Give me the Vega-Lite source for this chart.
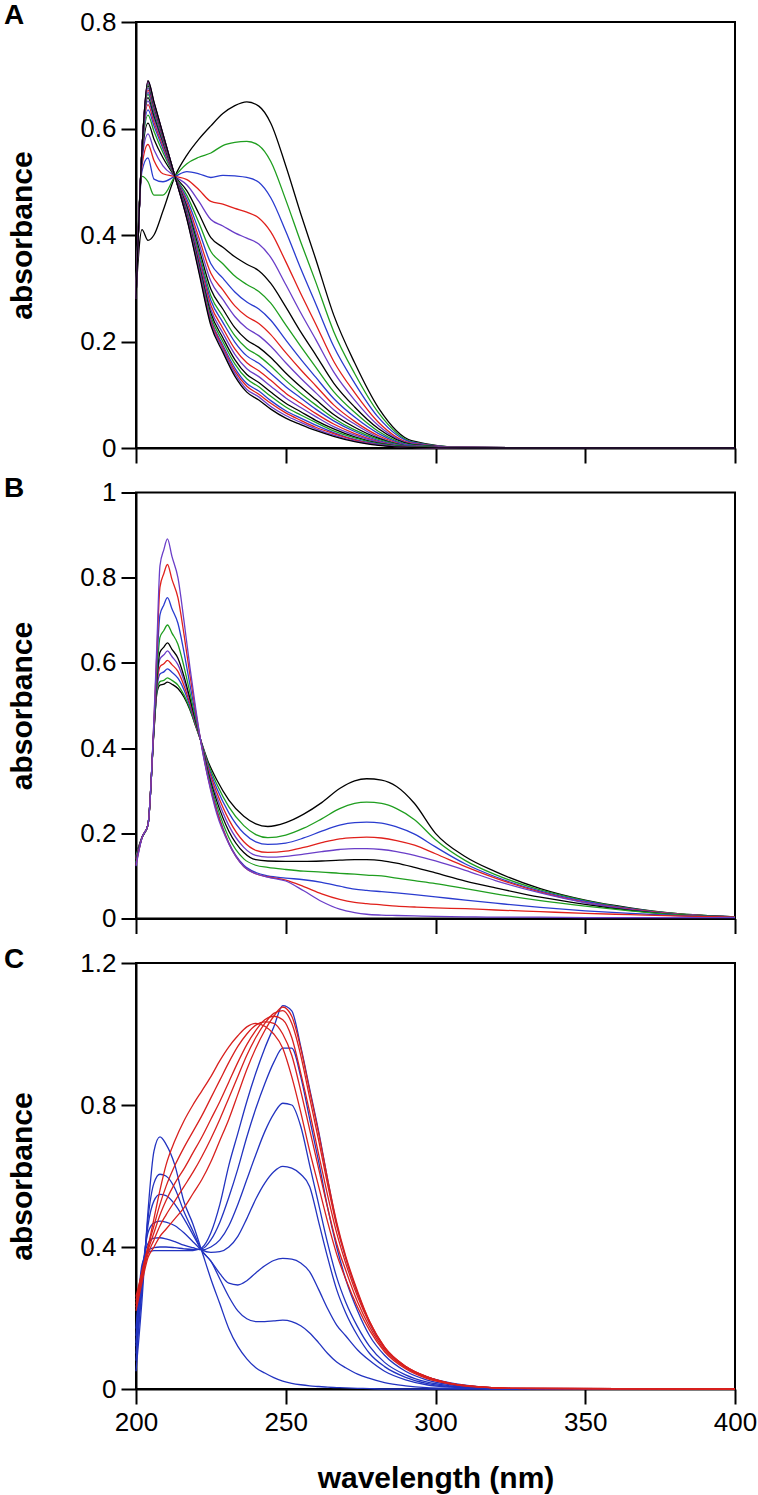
{
"$schema":"https://vega.github.io/schema/vega-lite/v6.json",
"autosize":{"type":"none"},
"padding":{"left":136,"top":22,"right":622,"bottom":1473},
"background":"white",
"spacing":44.5,
"bounds":"flush",
"resolve":{"scale":{"color":"independent","y":"independent"}},
"config":{
"view":{"stroke":"black","strokeWidth":2},
"axis":{"domainColor":"black","domainWidth":2,"tickColor":"black","tickWidth":2,"tickSize":15,"labelFont":"Liberation Sans","labelFontSize":26,"labelColor":"black","labelPadding":5,"labelFlush":false,"labelOverlap":false,"titleFont":"Liberation Sans","titleFontSize":30,"titleFontWeight":"bold","titleColor":"black","grid":false},
"title":{"anchor":"start","frame":"group","offset":0,"baseline":"alphabetic","font":"Liberation Sans","fontSize":28,"fontWeight":"bold","color":"black"}
},
"datasets":{
"A":[
{"s":0,"x":200,"y":0.29},{"s":0,"x":202,"y":0.41},{"s":0,"x":204,"y":0.39},{"s":0,"x":206,"y":0.40},{"s":0,"x":209,"y":0.445},{"s":0,"x":213,"y":0.51},{"s":0,"x":217,"y":0.55},{"s":0,"x":221,"y":0.58},{"s":0,"x":225,"y":0.605},{"s":0,"x":229,"y":0.628},{"s":0,"x":233,"y":0.643},{"s":0,"x":237,"y":0.65},{"s":0,"x":241,"y":0.642},{"s":0,"x":245,"y":0.61},{"s":0,"x":250,"y":0.53},{"s":0,"x":255,"y":0.44},{"s":0,"x":260,"y":0.355},{"s":0,"x":266,"y":0.25},{"s":0,"x":273,"y":0.16},{"s":0,"x":281,"y":0.075},{"s":0,"x":292,"y":0.014},{"s":0,"x":310,"y":0.001},{"s":0,"x":400,"y":0},
{"s":1,"x":200,"y":0.30},{"s":1,"x":202,"y":0.51},{"s":1,"x":204,"y":0.50},{"s":1,"x":206,"y":0.475},{"s":1,"x":209,"y":0.475},{"s":1,"x":213,"y":0.51},{"s":1,"x":217,"y":0.534},{"s":1,"x":221,"y":0.546},{"s":1,"x":225,"y":0.554},{"s":1,"x":229,"y":0.568},{"s":1,"x":233,"y":0.574},{"s":1,"x":237,"y":0.576},{"s":1,"x":241,"y":0.568},{"s":1,"x":245,"y":0.538},{"s":1,"x":250,"y":0.466},{"s":1,"x":255,"y":0.387},{"s":1,"x":260,"y":0.312},{"s":1,"x":266,"y":0.219},{"s":1,"x":273,"y":0.14},{"s":1,"x":281,"y":0.066},{"s":1,"x":292,"y":0.012},{"s":1,"x":310,"y":0.001},{"s":1,"x":400,"y":0},
{"s":2,"x":200,"y":0.30},{"s":2,"x":202,"y":0.52},{"s":2,"x":204,"y":0.545},{"s":2,"x":206,"y":0.505},{"s":2,"x":209,"y":0.50},{"s":2,"x":213,"y":0.51},{"s":2,"x":217,"y":0.519},{"s":2,"x":221,"y":0.515},{"s":2,"x":225,"y":0.508},{"s":2,"x":229,"y":0.512},{"s":2,"x":233,"y":0.511},{"s":2,"x":237,"y":0.508},{"s":2,"x":241,"y":0.499},{"s":2,"x":245,"y":0.47},{"s":2,"x":250,"y":0.407},{"s":2,"x":255,"y":0.337},{"s":2,"x":260,"y":0.271},{"s":2,"x":266,"y":0.191},{"s":2,"x":273,"y":0.122},{"s":2,"x":281,"y":0.057},{"s":2,"x":292,"y":0.011},{"s":2,"x":310,"y":0.001},{"s":2,"x":400,"y":0},
{"s":3,"x":200,"y":0.30},{"s":3,"x":202,"y":0.53},{"s":3,"x":204,"y":0.57},{"s":3,"x":206,"y":0.54},{"s":3,"x":209,"y":0.515},{"s":3,"x":213,"y":0.51},{"s":3,"x":217,"y":0.504},{"s":3,"x":221,"y":0.485},{"s":3,"x":225,"y":0.463},{"s":3,"x":229,"y":0.458},{"s":3,"x":233,"y":0.45},{"s":3,"x":237,"y":0.443},{"s":3,"x":241,"y":0.432},{"s":3,"x":245,"y":0.406},{"s":3,"x":250,"y":0.35},{"s":3,"x":255,"y":0.29},{"s":3,"x":260,"y":0.233},{"s":3,"x":266,"y":0.163},{"s":3,"x":273,"y":0.104},{"s":3,"x":281,"y":0.048},{"s":3,"x":292,"y":0.009},{"s":3,"x":310,"y":0.001},{"s":3,"x":400,"y":0},
{"s":4,"x":200,"y":0.30},{"s":4,"x":202,"y":0.54},{"s":4,"x":204,"y":0.59},{"s":4,"x":206,"y":0.56},{"s":4,"x":209,"y":0.53},{"s":4,"x":213,"y":0.51},{"s":4,"x":217,"y":0.494},{"s":4,"x":221,"y":0.463},{"s":4,"x":225,"y":0.429},{"s":4,"x":229,"y":0.417},{"s":4,"x":233,"y":0.404},{"s":4,"x":237,"y":0.394},{"s":4,"x":241,"y":0.383},{"s":4,"x":245,"y":0.358},{"s":4,"x":250,"y":0.307},{"s":4,"x":255,"y":0.254},{"s":4,"x":260,"y":0.204},{"s":4,"x":266,"y":0.143},{"s":4,"x":273,"y":0.09},{"s":4,"x":281,"y":0.042},{"s":4,"x":292,"y":0.008},{"s":4,"x":310,"y":0.001},{"s":4,"x":400,"y":0},
{"s":5,"x":200,"y":0.30},{"s":5,"x":202,"y":0.545},{"s":5,"x":204,"y":0.61},{"s":5,"x":206,"y":0.58},{"s":5,"x":209,"y":0.545},{"s":5,"x":213,"y":0.51},{"s":5,"x":217,"y":0.483},{"s":5,"x":221,"y":0.44},{"s":5,"x":225,"y":0.395},{"s":5,"x":229,"y":0.377},{"s":5,"x":233,"y":0.359},{"s":5,"x":237,"y":0.345},{"s":5,"x":241,"y":0.333},{"s":5,"x":245,"y":0.309},{"s":5,"x":250,"y":0.265},{"s":5,"x":255,"y":0.218},{"s":5,"x":260,"y":0.175},{"s":5,"x":266,"y":0.122},{"s":5,"x":273,"y":0.077},{"s":5,"x":281,"y":0.036},{"s":5,"x":292,"y":0.007},{"s":5,"x":310,"y":0.001},{"s":5,"x":400,"y":0},
{"s":6,"x":200,"y":0.29},{"s":6,"x":202,"y":0.55},{"s":6,"x":204,"y":0.625},{"s":6,"x":206,"y":0.595},{"s":6,"x":209,"y":0.555},{"s":6,"x":213,"y":0.51},{"s":6,"x":217,"y":0.474},{"s":6,"x":221,"y":0.423},{"s":6,"x":225,"y":0.369},{"s":6,"x":229,"y":0.346},{"s":6,"x":233,"y":0.323},{"s":6,"x":237,"y":0.307},{"s":6,"x":241,"y":0.294},{"s":6,"x":245,"y":0.272},{"s":6,"x":250,"y":0.231},{"s":6,"x":255,"y":0.191},{"s":6,"x":260,"y":0.152},{"s":6,"x":266,"y":0.106},{"s":6,"x":273,"y":0.067},{"s":6,"x":281,"y":0.031},{"s":6,"x":292,"y":0.006},{"s":6,"x":310,"y":0.001},{"s":6,"x":400,"y":0},
{"s":7,"x":200,"y":0.29},{"s":7,"x":202,"y":0.55},{"s":7,"x":204,"y":0.635},{"s":7,"x":206,"y":0.605},{"s":7,"x":209,"y":0.562},{"s":7,"x":213,"y":0.51},{"s":7,"x":217,"y":0.467},{"s":7,"x":221,"y":0.408},{"s":7,"x":225,"y":0.346},{"s":7,"x":229,"y":0.319},{"s":7,"x":233,"y":0.293},{"s":7,"x":237,"y":0.274},{"s":7,"x":241,"y":0.261},{"s":7,"x":245,"y":0.24},{"s":7,"x":250,"y":0.203},{"s":7,"x":255,"y":0.167},{"s":7,"x":260,"y":0.133},{"s":7,"x":266,"y":0.093},{"s":7,"x":273,"y":0.058},{"s":7,"x":281,"y":0.027},{"s":7,"x":292,"y":0.005},{"s":7,"x":310,"y":0.001},{"s":7,"x":400,"y":0},
{"s":8,"x":200,"y":0.29},{"s":8,"x":202,"y":0.555},{"s":8,"x":204,"y":0.645},{"s":8,"x":206,"y":0.612},{"s":8,"x":209,"y":0.567},{"s":8,"x":213,"y":0.51},{"s":8,"x":217,"y":0.461},{"s":8,"x":221,"y":0.395},{"s":8,"x":225,"y":0.328},{"s":8,"x":229,"y":0.297},{"s":8,"x":233,"y":0.267},{"s":8,"x":237,"y":0.247},{"s":8,"x":241,"y":0.234},{"s":8,"x":245,"y":0.213},{"s":8,"x":250,"y":0.179},{"s":8,"x":255,"y":0.147},{"s":8,"x":260,"y":0.117},{"s":8,"x":266,"y":0.081},{"s":8,"x":273,"y":0.05},{"s":8,"x":281,"y":0.023},{"s":8,"x":292,"y":0.004},{"s":8,"x":310,"y":0.001},{"s":8,"x":400,"y":0},
{"s":9,"x":200,"y":0.29},{"s":9,"x":202,"y":0.555},{"s":9,"x":204,"y":0.652},{"s":9,"x":206,"y":0.618},{"s":9,"x":209,"y":0.571},{"s":9,"x":213,"y":0.51},{"s":9,"x":217,"y":0.456},{"s":9,"x":221,"y":0.385},{"s":9,"x":225,"y":0.313},{"s":9,"x":229,"y":0.279},{"s":9,"x":233,"y":0.247},{"s":9,"x":237,"y":0.225},{"s":9,"x":241,"y":0.211},{"s":9,"x":245,"y":0.191},{"s":9,"x":250,"y":0.16},{"s":9,"x":255,"y":0.131},{"s":9,"x":260,"y":0.104},{"s":9,"x":266,"y":0.072},{"s":9,"x":273,"y":0.045},{"s":9,"x":281,"y":0.02},{"s":9,"x":292,"y":0.004},{"s":9,"x":310,"y":0.001},{"s":9,"x":400,"y":0},
{"s":10,"x":200,"y":0.28},{"s":10,"x":202,"y":0.56},{"s":10,"x":204,"y":0.658},{"s":10,"x":206,"y":0.624},{"s":10,"x":209,"y":0.575},{"s":10,"x":213,"y":0.51},{"s":10,"x":217,"y":0.452},{"s":10,"x":221,"y":0.375},{"s":10,"x":225,"y":0.298},{"s":10,"x":229,"y":0.261},{"s":10,"x":233,"y":0.226},{"s":10,"x":237,"y":0.203},{"s":10,"x":241,"y":0.189},{"s":10,"x":245,"y":0.17},{"s":10,"x":250,"y":0.141},{"s":10,"x":255,"y":0.115},{"s":10,"x":260,"y":0.091},{"s":10,"x":266,"y":0.063},{"s":10,"x":273,"y":0.039},{"s":10,"x":281,"y":0.018},{"s":10,"x":292,"y":0.003},{"s":10,"x":310,"y":0},{"s":10,"x":400,"y":0},
{"s":11,"x":200,"y":0.28},{"s":11,"x":202,"y":0.56},{"s":11,"x":204,"y":0.664},{"s":11,"x":206,"y":0.629},{"s":11,"x":209,"y":0.578},{"s":11,"x":213,"y":0.51},{"s":11,"x":217,"y":0.448},{"s":11,"x":221,"y":0.368},{"s":11,"x":225,"y":0.286},{"s":11,"x":229,"y":0.247},{"s":11,"x":233,"y":0.211},{"s":11,"x":237,"y":0.187},{"s":11,"x":241,"y":0.173},{"s":11,"x":245,"y":0.154},{"s":11,"x":250,"y":0.127},{"s":11,"x":255,"y":0.103},{"s":11,"x":260,"y":0.081},{"s":11,"x":266,"y":0.056},{"s":11,"x":273,"y":0.034},{"s":11,"x":281,"y":0.016},{"s":11,"x":292,"y":0.003},{"s":11,"x":310,"y":0},{"s":11,"x":400,"y":0},
{"s":12,"x":200,"y":0.28},{"s":12,"x":202,"y":0.56},{"s":12,"x":204,"y":0.668},{"s":12,"x":206,"y":0.633},{"s":12,"x":209,"y":0.58},{"s":12,"x":213,"y":0.51},{"s":12,"x":217,"y":0.445},{"s":12,"x":221,"y":0.361},{"s":12,"x":225,"y":0.277},{"s":12,"x":229,"y":0.236},{"s":12,"x":233,"y":0.199},{"s":12,"x":237,"y":0.173},{"s":12,"x":241,"y":0.159},{"s":12,"x":245,"y":0.14},{"s":12,"x":250,"y":0.115},{"s":12,"x":255,"y":0.094},{"s":12,"x":260,"y":0.073},{"s":12,"x":266,"y":0.051},{"s":12,"x":273,"y":0.031},{"s":12,"x":281,"y":0.014},{"s":12,"x":292,"y":0.003},{"s":12,"x":310,"y":0},{"s":12,"x":400,"y":0},
{"s":13,"x":200,"y":0.28},{"s":13,"x":202,"y":0.56},{"s":13,"x":204,"y":0.672},{"s":13,"x":206,"y":0.637},{"s":13,"x":209,"y":0.582},{"s":13,"x":213,"y":0.51},{"s":13,"x":217,"y":0.442},{"s":13,"x":221,"y":0.355},{"s":13,"x":225,"y":0.268},{"s":13,"x":229,"y":0.225},{"s":13,"x":233,"y":0.186},{"s":13,"x":237,"y":0.16},{"s":13,"x":241,"y":0.145},{"s":13,"x":245,"y":0.127},{"s":13,"x":250,"y":0.103},{"s":13,"x":255,"y":0.084},{"s":13,"x":260,"y":0.065},{"s":13,"x":266,"y":0.045},{"s":13,"x":273,"y":0.027},{"s":13,"x":281,"y":0.012},{"s":13,"x":292,"y":0.002},{"s":13,"x":310,"y":0},{"s":13,"x":400,"y":0},
{"s":14,"x":200,"y":0.28},{"s":14,"x":202,"y":0.56},{"s":14,"x":204,"y":0.676},{"s":14,"x":206,"y":0.64},{"s":14,"x":209,"y":0.584},{"s":14,"x":213,"y":0.51},{"s":14,"x":217,"y":0.44},{"s":14,"x":221,"y":0.35},{"s":14,"x":225,"y":0.26},{"s":14,"x":229,"y":0.216},{"s":14,"x":233,"y":0.176},{"s":14,"x":237,"y":0.149},{"s":14,"x":241,"y":0.134},{"s":14,"x":245,"y":0.116},{"s":14,"x":250,"y":0.094},{"s":14,"x":255,"y":0.076},{"s":14,"x":260,"y":0.059},{"s":14,"x":266,"y":0.04},{"s":14,"x":273,"y":0.024},{"s":14,"x":281,"y":0.011},{"s":14,"x":292,"y":0.002},{"s":14,"x":310,"y":0},{"s":14,"x":400,"y":0},
{"s":15,"x":200,"y":0.28},{"s":15,"x":202,"y":0.56},{"s":15,"x":204,"y":0.68},{"s":15,"x":206,"y":0.643},{"s":15,"x":209,"y":0.586},{"s":15,"x":213,"y":0.51},{"s":15,"x":217,"y":0.437},{"s":15,"x":221,"y":0.345},{"s":15,"x":225,"y":0.253},{"s":15,"x":229,"y":0.207},{"s":15,"x":233,"y":0.166},{"s":15,"x":237,"y":0.138},{"s":15,"x":241,"y":0.123},{"s":15,"x":245,"y":0.105},{"s":15,"x":250,"y":0.084},{"s":15,"x":255,"y":0.068},{"s":15,"x":260,"y":0.052},{"s":15,"x":266,"y":0.036},{"s":15,"x":273,"y":0.021},{"s":15,"x":281,"y":0.009},{"s":15,"x":292,"y":0.002},{"s":15,"x":310,"y":0},{"s":15,"x":400,"y":0},
{"s":16,"x":200,"y":0.28},{"s":16,"x":202,"y":0.56},{"s":16,"x":204,"y":0.683},{"s":16,"x":206,"y":0.645},{"s":16,"x":209,"y":0.587},{"s":16,"x":213,"y":0.51},{"s":16,"x":217,"y":0.435},{"s":16,"x":221,"y":0.341},{"s":16,"x":225,"y":0.247},{"s":16,"x":229,"y":0.2},{"s":16,"x":233,"y":0.158},{"s":16,"x":237,"y":0.13},{"s":16,"x":241,"y":0.115},{"s":16,"x":245,"y":0.097},{"s":16,"x":250,"y":0.077},{"s":16,"x":255,"y":0.062},{"s":16,"x":260,"y":0.048},{"s":16,"x":266,"y":0.032},{"s":16,"x":273,"y":0.019},{"s":16,"x":281,"y":0.008},{"s":16,"x":292,"y":0.002},{"s":16,"x":310,"y":0},{"s":16,"x":400,"y":0},
{"s":17,"x":200,"y":0.28},{"s":17,"x":202,"y":0.56},{"s":17,"x":204,"y":0.686},{"s":17,"x":206,"y":0.647},{"s":17,"x":209,"y":0.588},{"s":17,"x":213,"y":0.51},{"s":17,"x":217,"y":0.434},{"s":17,"x":221,"y":0.338},{"s":17,"x":225,"y":0.241},{"s":17,"x":229,"y":0.193},{"s":17,"x":233,"y":0.15},{"s":17,"x":237,"y":0.121},{"s":17,"x":241,"y":0.107},{"s":17,"x":245,"y":0.089},{"s":17,"x":250,"y":0.07},{"s":17,"x":255,"y":0.056},{"s":17,"x":260,"y":0.043},{"s":17,"x":266,"y":0.029},{"s":17,"x":273,"y":0.016},{"s":17,"x":281,"y":0.007},{"s":17,"x":292,"y":0.001},{"s":17,"x":310,"y":0},{"s":17,"x":400,"y":0},
{"s":18,"x":200,"y":0.28},{"s":18,"x":202,"y":0.56},{"s":18,"x":204,"y":0.688},{"s":18,"x":206,"y":0.648},{"s":18,"x":209,"y":0.589},{"s":18,"x":213,"y":0.51},{"s":18,"x":217,"y":0.432},{"s":18,"x":221,"y":0.335},{"s":18,"x":225,"y":0.238},{"s":18,"x":229,"y":0.189},{"s":18,"x":233,"y":0.145},{"s":18,"x":237,"y":0.116},{"s":18,"x":241,"y":0.101},{"s":18,"x":245,"y":0.084},{"s":18,"x":250,"y":0.066},{"s":18,"x":255,"y":0.052},{"s":18,"x":260,"y":0.039},{"s":18,"x":266,"y":0.027},{"s":18,"x":273,"y":0.015},{"s":18,"x":281,"y":0.006},{"s":18,"x":292,"y":0.001},{"s":18,"x":310,"y":0},{"s":18,"x":400,"y":0},
{"s":19,"x":200,"y":0.28},{"s":19,"x":202,"y":0.56},{"s":19,"x":204,"y":0.689},{"s":19,"x":206,"y":0.649},{"s":19,"x":209,"y":0.59},{"s":19,"x":213,"y":0.51},{"s":19,"x":217,"y":0.431},{"s":19,"x":221,"y":0.333},{"s":19,"x":225,"y":0.234},{"s":19,"x":229,"y":0.185},{"s":19,"x":233,"y":0.14},{"s":19,"x":237,"y":0.11},{"s":19,"x":241,"y":0.096},{"s":19,"x":245,"y":0.078},{"s":19,"x":250,"y":0.061},{"s":19,"x":255,"y":0.048},{"s":19,"x":260,"y":0.036},{"s":19,"x":266,"y":0.024},{"s":19,"x":273,"y":0.013},{"s":19,"x":281,"y":0.006},{"s":19,"x":292,"y":0.001},{"s":19,"x":310,"y":0},{"s":19,"x":400,"y":0},
{"s":20,"x":200,"y":0.28},{"s":20,"x":202,"y":0.56},{"s":20,"x":204,"y":0.69},{"s":20,"x":206,"y":0.65},{"s":20,"x":209,"y":0.59},{"s":20,"x":213,"y":0.51},{"s":20,"x":217,"y":0.43},{"s":20,"x":221,"y":0.33},{"s":20,"x":225,"y":0.23},{"s":20,"x":229,"y":0.18},{"s":20,"x":233,"y":0.135},{"s":20,"x":237,"y":0.105},{"s":20,"x":241,"y":0.09},{"s":20,"x":245,"y":0.073},{"s":20,"x":250,"y":0.056},{"s":20,"x":255,"y":0.044},{"s":20,"x":260,"y":0.033},{"s":20,"x":266,"y":0.022},{"s":20,"x":273,"y":0.012},{"s":20,"x":281,"y":0.005},{"s":20,"x":292,"y":0.001},{"s":20,"x":310,"y":0},{"s":20,"x":400,"y":0}
],
"B":[
{"s":0,"x":200,"y":0.15},{"s":0,"x":202,"y":0.19},{"s":0,"x":204,"y":0.22},{"s":0,"x":206,"y":0.44},{"s":0,"x":207,"y":0.53},{"s":0,"x":208,"y":0.548},{"s":0,"x":209.3,"y":0.55},{"s":0,"x":210.5,"y":0.555},{"s":0,"x":212,"y":0.55},{"s":0,"x":214,"y":0.54},{"s":0,"x":216,"y":0.52},{"s":0,"x":218,"y":0.49},{"s":0,"x":220,"y":0.45},{"s":0,"x":222,"y":0.41},{"s":0,"x":224,"y":0.37},{"s":0,"x":227,"y":0.325},{"s":0,"x":231,"y":0.278},{"s":0,"x":236,"y":0.24},{"s":0,"x":240,"y":0.222},{"s":0,"x":244,"y":0.216},{"s":0,"x":250,"y":0.225},{"s":0,"x":256,"y":0.245},{"s":0,"x":262,"y":0.272},{"s":0,"x":268,"y":0.305},{"s":0,"x":273,"y":0.323},{"s":0,"x":277,"y":0.328},{"s":0,"x":282,"y":0.325},{"s":0,"x":287,"y":0.31},{"s":0,"x":293,"y":0.27},{"s":0,"x":300,"y":0.2},{"s":0,"x":310,"y":0.145},{"s":0,"x":320,"y":0.11},{"s":0,"x":335,"y":0.07},{"s":0,"x":350,"y":0.043},{"s":0,"x":365,"y":0.025},{"s":0,"x":380,"y":0.012},{"s":0,"x":400,"y":0.004},
{"s":1,"x":200,"y":0.147},{"s":1,"x":202,"y":0.19},{"s":1,"x":204,"y":0.22},{"s":1,"x":206,"y":0.441},{"s":1,"x":207,"y":0.534},{"s":1,"x":208,"y":0.556},{"s":1,"x":209.3,"y":0.559},{"s":1,"x":210.5,"y":0.565},{"s":1,"x":212,"y":0.559},{"s":1,"x":214,"y":0.548},{"s":1,"x":216,"y":0.525},{"s":1,"x":218,"y":0.493},{"s":1,"x":220,"y":0.451},{"s":1,"x":222,"y":0.41},{"s":1,"x":224,"y":0.365},{"s":1,"x":227,"y":0.315},{"s":1,"x":231,"y":0.262},{"s":1,"x":236,"y":0.218},{"s":1,"x":240,"y":0.197},{"s":1,"x":244,"y":0.19},{"s":1,"x":250,"y":0.196},{"s":1,"x":256,"y":0.212},{"s":1,"x":262,"y":0.234},{"s":1,"x":268,"y":0.258},{"s":1,"x":273,"y":0.27},{"s":1,"x":277,"y":0.273},{"s":1,"x":282,"y":0.27},{"s":1,"x":287,"y":0.258},{"s":1,"x":293,"y":0.232},{"s":1,"x":300,"y":0.185},{"s":1,"x":310,"y":0.136},{"s":1,"x":320,"y":0.103},{"s":1,"x":335,"y":0.067},{"s":1,"x":350,"y":0.042},{"s":1,"x":365,"y":0.024},{"s":1,"x":380,"y":0.012},{"s":1,"x":400,"y":0.004},
{"s":2,"x":200,"y":0.144},{"s":2,"x":202,"y":0.19},{"s":2,"x":204,"y":0.22},{"s":2,"x":206,"y":0.443},{"s":2,"x":207,"y":0.541},{"s":2,"x":208,"y":0.574},{"s":2,"x":209.3,"y":0.579},{"s":2,"x":210.5,"y":0.586},{"s":2,"x":212,"y":0.578},{"s":2,"x":214,"y":0.564},{"s":2,"x":216,"y":0.537},{"s":2,"x":218,"y":0.499},{"s":2,"x":220,"y":0.454},{"s":2,"x":222,"y":0.409},{"s":2,"x":224,"y":0.36},{"s":2,"x":227,"y":0.305},{"s":2,"x":231,"y":0.248},{"s":2,"x":236,"y":0.2},{"s":2,"x":240,"y":0.18},{"s":2,"x":244,"y":0.174},{"s":2,"x":250,"y":0.177},{"s":2,"x":256,"y":0.189},{"s":2,"x":262,"y":0.205},{"s":2,"x":268,"y":0.219},{"s":2,"x":273,"y":0.225},{"s":2,"x":277,"y":0.226},{"s":2,"x":282,"y":0.224},{"s":2,"x":287,"y":0.215},{"s":2,"x":293,"y":0.198},{"s":2,"x":300,"y":0.168},{"s":2,"x":310,"y":0.128},{"s":2,"x":320,"y":0.098},{"s":2,"x":335,"y":0.064},{"s":2,"x":350,"y":0.04},{"s":2,"x":365,"y":0.023},{"s":2,"x":380,"y":0.011},{"s":2,"x":400,"y":0.004},
{"s":3,"x":200,"y":0.141},{"s":3,"x":202,"y":0.19},{"s":3,"x":204,"y":0.22},{"s":3,"x":206,"y":0.445},{"s":3,"x":207,"y":0.548},{"s":3,"x":208,"y":0.591},{"s":3,"x":209.3,"y":0.598},{"s":3,"x":210.5,"y":0.606},{"s":3,"x":212,"y":0.596},{"s":3,"x":214,"y":0.58},{"s":3,"x":216,"y":0.547},{"s":3,"x":218,"y":0.505},{"s":3,"x":220,"y":0.456},{"s":3,"x":222,"y":0.408},{"s":3,"x":224,"y":0.355},{"s":3,"x":227,"y":0.295},{"s":3,"x":231,"y":0.232},{"s":3,"x":236,"y":0.18},{"s":3,"x":240,"y":0.16},{"s":3,"x":244,"y":0.155},{"s":3,"x":250,"y":0.158},{"s":3,"x":256,"y":0.167},{"s":3,"x":262,"y":0.178},{"s":3,"x":268,"y":0.187},{"s":3,"x":273,"y":0.19},{"s":3,"x":277,"y":0.191},{"s":3,"x":282,"y":0.189},{"s":3,"x":287,"y":0.183},{"s":3,"x":293,"y":0.172},{"s":3,"x":300,"y":0.152},{"s":3,"x":310,"y":0.122},{"s":3,"x":320,"y":0.095},{"s":3,"x":335,"y":0.062},{"s":3,"x":350,"y":0.038},{"s":3,"x":365,"y":0.022},{"s":3,"x":380,"y":0.011},{"s":3,"x":400,"y":0.004},
{"s":4,"x":200,"y":0.138},{"s":4,"x":202,"y":0.19},{"s":4,"x":204,"y":0.22},{"s":4,"x":206,"y":0.447},{"s":4,"x":207,"y":0.556},{"s":4,"x":208,"y":0.609},{"s":4,"x":209.3,"y":0.619},{"s":4,"x":210.5,"y":0.628},{"s":4,"x":212,"y":0.615},{"s":4,"x":214,"y":0.596},{"s":4,"x":216,"y":0.559},{"s":4,"x":218,"y":0.512},{"s":4,"x":220,"y":0.459},{"s":4,"x":222,"y":0.408},{"s":4,"x":224,"y":0.35},{"s":4,"x":227,"y":0.285},{"s":4,"x":231,"y":0.218},{"s":4,"x":236,"y":0.167},{"s":4,"x":240,"y":0.148},{"s":4,"x":244,"y":0.144},{"s":4,"x":250,"y":0.146},{"s":4,"x":256,"y":0.151},{"s":4,"x":262,"y":0.157},{"s":4,"x":268,"y":0.162},{"s":4,"x":273,"y":0.164},{"s":4,"x":277,"y":0.164},{"s":4,"x":282,"y":0.162},{"s":4,"x":287,"y":0.157},{"s":4,"x":293,"y":0.148},{"s":4,"x":300,"y":0.135},{"s":4,"x":310,"y":0.113},{"s":4,"x":320,"y":0.089},{"s":4,"x":335,"y":0.06},{"s":4,"x":350,"y":0.037},{"s":4,"x":365,"y":0.021},{"s":4,"x":380,"y":0.01},{"s":4,"x":400,"y":0.004},
{"s":5,"x":200,"y":0.135},{"s":5,"x":202,"y":0.19},{"s":5,"x":204,"y":0.22},{"s":5,"x":206,"y":0.448},{"s":5,"x":207,"y":0.563},{"s":5,"x":208,"y":0.625},{"s":5,"x":209.3,"y":0.637},{"s":5,"x":210.5,"y":0.647},{"s":5,"x":212,"y":0.632},{"s":5,"x":214,"y":0.611},{"s":5,"x":216,"y":0.569},{"s":5,"x":218,"y":0.517},{"s":5,"x":220,"y":0.461},{"s":5,"x":222,"y":0.407},{"s":5,"x":224,"y":0.345},{"s":5,"x":227,"y":0.275},{"s":5,"x":231,"y":0.205},{"s":5,"x":236,"y":0.155},{"s":5,"x":240,"y":0.138},{"s":5,"x":244,"y":0.135},{"s":5,"x":250,"y":0.134},{"s":5,"x":256,"y":0.134},{"s":5,"x":262,"y":0.135},{"s":5,"x":268,"y":0.137},{"s":5,"x":273,"y":0.138},{"s":5,"x":277,"y":0.138},{"s":5,"x":282,"y":0.136},{"s":5,"x":287,"y":0.13},{"s":5,"x":293,"y":0.12},{"s":5,"x":300,"y":0.107},{"s":5,"x":310,"y":0.088},{"s":5,"x":320,"y":0.072},{"s":5,"x":335,"y":0.05},{"s":5,"x":350,"y":0.033},{"s":5,"x":365,"y":0.019},{"s":5,"x":380,"y":0.009},{"s":5,"x":400,"y":0.004},
{"s":6,"x":200,"y":0.132},{"s":6,"x":202,"y":0.19},{"s":6,"x":204,"y":0.22},{"s":6,"x":206,"y":0.452},{"s":6,"x":207,"y":0.578},{"s":6,"x":208,"y":0.66},{"s":6,"x":209.3,"y":0.676},{"s":6,"x":210.5,"y":0.689},{"s":6,"x":212,"y":0.67},{"s":6,"x":214,"y":0.644},{"s":6,"x":216,"y":0.592},{"s":6,"x":218,"y":0.53},{"s":6,"x":220,"y":0.466},{"s":6,"x":222,"y":0.406},{"s":6,"x":224,"y":0.34},{"s":6,"x":227,"y":0.265},{"s":6,"x":231,"y":0.19},{"s":6,"x":236,"y":0.14},{"s":6,"x":240,"y":0.125},{"s":6,"x":244,"y":0.12},{"s":6,"x":250,"y":0.115},{"s":6,"x":256,"y":0.111},{"s":6,"x":262,"y":0.109},{"s":6,"x":268,"y":0.106},{"s":6,"x":273,"y":0.104},{"s":6,"x":277,"y":0.102},{"s":6,"x":282,"y":0.1},{"s":6,"x":287,"y":0.095},{"s":6,"x":293,"y":0.089},{"s":6,"x":300,"y":0.082},{"s":6,"x":310,"y":0.07},{"s":6,"x":320,"y":0.058},{"s":6,"x":335,"y":0.042},{"s":6,"x":350,"y":0.029},{"s":6,"x":365,"y":0.018},{"s":6,"x":380,"y":0.009},{"s":6,"x":400,"y":0.004},
{"s":7,"x":200,"y":0.129},{"s":7,"x":202,"y":0.19},{"s":7,"x":204,"y":0.22},{"s":7,"x":206,"y":0.458},{"s":7,"x":207,"y":0.601},{"s":7,"x":208,"y":0.713},{"s":7,"x":209.3,"y":0.736},{"s":7,"x":210.5,"y":0.753},{"s":7,"x":212,"y":0.727},{"s":7,"x":214,"y":0.693},{"s":7,"x":216,"y":0.626},{"s":7,"x":218,"y":0.549},{"s":7,"x":220,"y":0.474},{"s":7,"x":222,"y":0.404},{"s":7,"x":224,"y":0.335},{"s":7,"x":227,"y":0.255},{"s":7,"x":231,"y":0.178},{"s":7,"x":236,"y":0.125},{"s":7,"x":240,"y":0.108},{"s":7,"x":244,"y":0.1},{"s":7,"x":250,"y":0.095},{"s":7,"x":256,"y":0.091},{"s":7,"x":262,"y":0.085},{"s":7,"x":268,"y":0.076},{"s":7,"x":273,"y":0.069},{"s":7,"x":277,"y":0.066},{"s":7,"x":282,"y":0.063},{"s":7,"x":287,"y":0.06},{"s":7,"x":293,"y":0.056},{"s":7,"x":300,"y":0.051},{"s":7,"x":310,"y":0.043},{"s":7,"x":320,"y":0.036},{"s":7,"x":335,"y":0.026},{"s":7,"x":350,"y":0.018},{"s":7,"x":365,"y":0.012},{"s":7,"x":380,"y":0.007},{"s":7,"x":400,"y":0.003},
{"s":8,"x":200,"y":0.126},{"s":8,"x":202,"y":0.19},{"s":8,"x":204,"y":0.22},{"s":8,"x":206,"y":0.465},{"s":8,"x":207,"y":0.629},{"s":8,"x":208,"y":0.778},{"s":8,"x":209.3,"y":0.81},{"s":8,"x":210.5,"y":0.831},{"s":8,"x":212,"y":0.796},{"s":8,"x":214,"y":0.753},{"s":8,"x":216,"y":0.668},{"s":8,"x":218,"y":0.572},{"s":8,"x":220,"y":0.483},{"s":8,"x":222,"y":0.402},{"s":8,"x":224,"y":0.332},{"s":8,"x":227,"y":0.25},{"s":8,"x":231,"y":0.176},{"s":8,"x":236,"y":0.122},{"s":8,"x":240,"y":0.105},{"s":8,"x":244,"y":0.098},{"s":8,"x":250,"y":0.09},{"s":8,"x":256,"y":0.075},{"s":8,"x":262,"y":0.058},{"s":8,"x":268,"y":0.045},{"s":8,"x":273,"y":0.038},{"s":8,"x":277,"y":0.035},{"s":8,"x":282,"y":0.032},{"s":8,"x":287,"y":0.029},{"s":8,"x":293,"y":0.027},{"s":8,"x":300,"y":0.025},{"s":8,"x":310,"y":0.023},{"s":8,"x":320,"y":0.02},{"s":8,"x":335,"y":0.016},{"s":8,"x":350,"y":0.012},{"s":8,"x":365,"y":0.009},{"s":8,"x":380,"y":0.006},{"s":8,"x":400,"y":0.003},
{"s":9,"x":200,"y":0.123},{"s":9,"x":202,"y":0.19},{"s":9,"x":204,"y":0.22},{"s":9,"x":206,"y":0.47},{"s":9,"x":207,"y":0.65},{"s":9,"x":208,"y":0.828},{"s":9,"x":209.3,"y":0.866},{"s":9,"x":210.5,"y":0.891},{"s":9,"x":212,"y":0.85},{"s":9,"x":214,"y":0.8},{"s":9,"x":216,"y":0.7},{"s":9,"x":218,"y":0.59},{"s":9,"x":220,"y":0.49},{"s":9,"x":222,"y":0.4},{"s":9,"x":224,"y":0.33},{"s":9,"x":227,"y":0.245},{"s":9,"x":231,"y":0.175},{"s":9,"x":236,"y":0.122},{"s":9,"x":240,"y":0.105},{"s":9,"x":244,"y":0.097},{"s":9,"x":250,"y":0.088},{"s":9,"x":256,"y":0.065},{"s":9,"x":262,"y":0.04},{"s":9,"x":268,"y":0.022},{"s":9,"x":273,"y":0.014},{"s":9,"x":277,"y":0.01},{"s":9,"x":282,"y":0.008},{"s":9,"x":287,"y":0.007},{"s":9,"x":293,"y":0.006},{"s":9,"x":300,"y":0.005},{"s":9,"x":310,"y":0.004},{"s":9,"x":320,"y":0.003},{"s":9,"x":335,"y":0.003},{"s":9,"x":350,"y":0.002},{"s":9,"x":365,"y":0.002},{"s":9,"x":380,"y":0.002},{"s":9,"x":400,"y":0.002}
],
"C":[
{"s":0,"x":200,"y":0.05},{"s":0,"x":202,"y":0.25},{"s":0,"x":204,"y":0.5},{"s":0,"x":206,"y":0.67},{"s":0,"x":208,"y":0.71},{"s":0,"x":210,"y":0.69},{"s":0,"x":213,"y":0.63},{"s":0,"x":216,"y":0.528},{"s":0,"x":219,"y":0.465},{"s":0,"x":222,"y":0.388},{"s":0,"x":225,"y":0.31},{"s":0,"x":228,"y":0.24},{"s":0,"x":231,"y":0.17},{"s":0,"x":234,"y":0.12},{"s":0,"x":237,"y":0.085},{"s":0,"x":240,"y":0.06},{"s":0,"x":243,"y":0.045},{"s":0,"x":246,"y":0.032},{"s":0,"x":249,"y":0.022},{"s":0,"x":252,"y":0.016},{"s":0,"x":255,"y":0.012},{"s":0,"x":258,"y":0.009},{"s":0,"x":261,"y":0.007},{"s":0,"x":264,"y":0.005},{"s":0,"x":267,"y":0.004},{"s":0,"x":270,"y":0.003},{"s":0,"x":274,"y":0.002},{"s":0,"x":278,"y":0.001},{"s":0,"x":283,"y":0},{"s":0,"x":290,"y":0},{"s":0,"x":297,"y":0},{"s":0,"x":305,"y":0},{"s":0,"x":315,"y":0},{"s":0,"x":325,"y":0},{"s":0,"x":400,"y":0},
{"s":1,"x":200,"y":0.08},{"s":1,"x":202,"y":0.28},{"s":1,"x":204,"y":0.48},{"s":1,"x":206,"y":0.58},{"s":1,"x":208,"y":0.605},{"s":1,"x":210,"y":0.6},{"s":1,"x":213,"y":0.565},{"s":1,"x":216,"y":0.5},{"s":1,"x":219,"y":0.445},{"s":1,"x":222,"y":0.39},{"s":1,"x":225,"y":0.36},{"s":1,"x":228,"y":0.31},{"s":1,"x":231,"y":0.26},{"s":1,"x":234,"y":0.22},{"s":1,"x":237,"y":0.198},{"s":1,"x":240,"y":0.19},{"s":1,"x":243,"y":0.19},{"s":1,"x":246,"y":0.192},{"s":1,"x":249,"y":0.194},{"s":1,"x":252,"y":0.19},{"s":1,"x":255,"y":0.178},{"s":1,"x":258,"y":0.158},{"s":1,"x":261,"y":0.13},{"s":1,"x":264,"y":0.1},{"s":1,"x":267,"y":0.076},{"s":1,"x":270,"y":0.06},{"s":1,"x":274,"y":0.042},{"s":1,"x":278,"y":0.03},{"s":1,"x":283,"y":0.018},{"s":1,"x":290,"y":0.009},{"s":1,"x":297,"y":0.004},{"s":1,"x":305,"y":0.002},{"s":1,"x":315,"y":0.001},{"s":1,"x":325,"y":0},{"s":1,"x":400,"y":0},
{"s":2,"x":200,"y":0.1},{"s":2,"x":202,"y":0.3},{"s":2,"x":204,"y":0.46},{"s":2,"x":206,"y":0.53},{"s":2,"x":208,"y":0.548},{"s":2,"x":210,"y":0.545},{"s":2,"x":213,"y":0.52},{"s":2,"x":216,"y":0.48},{"s":2,"x":219,"y":0.435},{"s":2,"x":222,"y":0.39},{"s":2,"x":225,"y":0.36},{"s":2,"x":228,"y":0.325},{"s":2,"x":231,"y":0.298},{"s":2,"x":234,"y":0.293},{"s":2,"x":237,"y":0.305},{"s":2,"x":240,"y":0.327},{"s":2,"x":243,"y":0.347},{"s":2,"x":246,"y":0.362},{"s":2,"x":249,"y":0.368},{"s":2,"x":252,"y":0.366},{"s":2,"x":255,"y":0.355},{"s":2,"x":258,"y":0.33},{"s":2,"x":261,"y":0.28},{"s":2,"x":264,"y":0.226},{"s":2,"x":267,"y":0.18},{"s":2,"x":270,"y":0.15},{"s":2,"x":274,"y":0.11},{"s":2,"x":278,"y":0.08},{"s":2,"x":283,"y":0.05},{"s":2,"x":290,"y":0.026},{"s":2,"x":297,"y":0.012},{"s":2,"x":305,"y":0.005},{"s":2,"x":315,"y":0.002},{"s":2,"x":325,"y":0.001},{"s":2,"x":400,"y":0},
{"s":3,"x":200,"y":0.12},{"s":3,"x":202,"y":0.32},{"s":3,"x":204,"y":0.44},{"s":3,"x":206,"y":0.468},{"s":3,"x":208,"y":0.473},{"s":3,"x":210,"y":0.47},{"s":3,"x":213,"y":0.46},{"s":3,"x":216,"y":0.44},{"s":3,"x":219,"y":0.415},{"s":3,"x":222,"y":0.392},{"s":3,"x":225,"y":0.385},{"s":3,"x":228,"y":0.387},{"s":3,"x":231,"y":0.4},{"s":3,"x":234,"y":0.43},{"s":3,"x":237,"y":0.48},{"s":3,"x":240,"y":0.535},{"s":3,"x":243,"y":0.58},{"s":3,"x":246,"y":0.612},{"s":3,"x":249,"y":0.627},{"s":3,"x":252,"y":0.622},{"s":3,"x":255,"y":0.605},{"s":3,"x":258,"y":0.57},{"s":3,"x":261,"y":0.47},{"s":3,"x":264,"y":0.37},{"s":3,"x":267,"y":0.28},{"s":3,"x":270,"y":0.215},{"s":3,"x":274,"y":0.15},{"s":3,"x":278,"y":0.1},{"s":3,"x":283,"y":0.063},{"s":3,"x":290,"y":0.033},{"s":3,"x":297,"y":0.016},{"s":3,"x":305,"y":0.007},{"s":3,"x":315,"y":0.002},{"s":3,"x":325,"y":0.001},{"s":3,"x":400,"y":0},
{"s":4,"x":200,"y":0.13},{"s":4,"x":202,"y":0.33},{"s":4,"x":204,"y":0.41},{"s":4,"x":206,"y":0.425},{"s":4,"x":208,"y":0.426},{"s":4,"x":210,"y":0.423},{"s":4,"x":213,"y":0.415},{"s":4,"x":216,"y":0.405},{"s":4,"x":219,"y":0.398},{"s":4,"x":222,"y":0.392},{"s":4,"x":225,"y":0.4},{"s":4,"x":228,"y":0.42},{"s":4,"x":231,"y":0.46},{"s":4,"x":234,"y":0.52},{"s":4,"x":237,"y":0.59},{"s":4,"x":240,"y":0.66},{"s":4,"x":243,"y":0.725},{"s":4,"x":246,"y":0.775},{"s":4,"x":249,"y":0.805},{"s":4,"x":252,"y":0.8},{"s":4,"x":255,"y":0.74},{"s":4,"x":258,"y":0.63},{"s":4,"x":261,"y":0.52},{"s":4,"x":264,"y":0.41},{"s":4,"x":267,"y":0.315},{"s":4,"x":270,"y":0.245},{"s":4,"x":274,"y":0.175},{"s":4,"x":278,"y":0.12},{"s":4,"x":283,"y":0.075},{"s":4,"x":290,"y":0.04},{"s":4,"x":297,"y":0.02},{"s":4,"x":305,"y":0.009},{"s":4,"x":315,"y":0.003},{"s":4,"x":325,"y":0.001},{"s":4,"x":400,"y":0},
{"s":5,"x":200,"y":0.15},{"s":5,"x":202,"y":0.34},{"s":5,"x":204,"y":0.39},{"s":5,"x":206,"y":0.398},{"s":5,"x":208,"y":0.4},{"s":5,"x":210,"y":0.4},{"s":5,"x":213,"y":0.398},{"s":5,"x":216,"y":0.395},{"s":5,"x":219,"y":0.393},{"s":5,"x":222,"y":0.395},{"s":5,"x":225,"y":0.42},{"s":5,"x":228,"y":0.47},{"s":5,"x":231,"y":0.54},{"s":5,"x":234,"y":0.62},{"s":5,"x":237,"y":0.71},{"s":5,"x":240,"y":0.79},{"s":5,"x":243,"y":0.86},{"s":5,"x":246,"y":0.92},{"s":5,"x":249,"y":0.96},{"s":5,"x":252,"y":0.96},{"s":5,"x":255,"y":0.88},{"s":5,"x":258,"y":0.76},{"s":5,"x":261,"y":0.64},{"s":5,"x":264,"y":0.51},{"s":5,"x":267,"y":0.4},{"s":5,"x":270,"y":0.31},{"s":5,"x":274,"y":0.22},{"s":5,"x":278,"y":0.15},{"s":5,"x":283,"y":0.095},{"s":5,"x":290,"y":0.05},{"s":5,"x":297,"y":0.026},{"s":5,"x":305,"y":0.012},{"s":5,"x":315,"y":0.004},{"s":5,"x":325,"y":0.001},{"s":5,"x":400,"y":0},
{"s":6,"x":200,"y":0.17},{"s":6,"x":202,"y":0.35},{"s":6,"x":204,"y":0.385},{"s":6,"x":206,"y":0.39},{"s":6,"x":208,"y":0.39},{"s":6,"x":210,"y":0.39},{"s":6,"x":213,"y":0.39},{"s":6,"x":216,"y":0.39},{"s":6,"x":219,"y":0.39},{"s":6,"x":222,"y":0.398},{"s":6,"x":225,"y":0.44},{"s":6,"x":228,"y":0.52},{"s":6,"x":231,"y":0.63},{"s":6,"x":234,"y":0.72},{"s":6,"x":237,"y":0.81},{"s":6,"x":240,"y":0.89},{"s":6,"x":243,"y":0.96},{"s":6,"x":246,"y":1.02},{"s":6,"x":249,"y":1.08},{"s":6,"x":252,"y":1.065},{"s":6,"x":255,"y":0.965},{"s":6,"x":258,"y":0.845},{"s":6,"x":261,"y":0.725},{"s":6,"x":264,"y":0.59},{"s":6,"x":267,"y":0.465},{"s":6,"x":270,"y":0.37},{"s":6,"x":274,"y":0.27},{"s":6,"x":278,"y":0.185},{"s":6,"x":283,"y":0.115},{"s":6,"x":290,"y":0.062},{"s":6,"x":297,"y":0.035},{"s":6,"x":305,"y":0.017},{"s":6,"x":315,"y":0.006},{"s":6,"x":325,"y":0.002},{"s":6,"x":400,"y":0},
{"s":7,"x":200,"y":0.22},{"s":7,"x":202,"y":0.3},{"s":7,"x":204,"y":0.37},{"s":7,"x":206,"y":0.4},{"s":7,"x":208,"y":0.43},{"s":7,"x":210,"y":0.45},{"s":7,"x":213,"y":0.48},{"s":7,"x":216,"y":0.51},{"s":7,"x":219,"y":0.55},{"s":7,"x":222,"y":0.59},{"s":7,"x":225,"y":0.64},{"s":7,"x":228,"y":0.7},{"s":7,"x":231,"y":0.76},{"s":7,"x":234,"y":0.83},{"s":7,"x":237,"y":0.9},{"s":7,"x":240,"y":0.96},{"s":7,"x":243,"y":1.01},{"s":7,"x":246,"y":1.05},{"s":7,"x":249,"y":1.076},{"s":7,"x":252,"y":1.05},{"s":7,"x":255,"y":0.96},{"s":7,"x":258,"y":0.84},{"s":7,"x":261,"y":0.72},{"s":7,"x":264,"y":0.59},{"s":7,"x":267,"y":0.47},{"s":7,"x":270,"y":0.375},{"s":7,"x":274,"y":0.275},{"s":7,"x":278,"y":0.19},{"s":7,"x":283,"y":0.118},{"s":7,"x":290,"y":0.064},{"s":7,"x":297,"y":0.035},{"s":7,"x":305,"y":0.016},{"s":7,"x":315,"y":0.006},{"s":7,"x":325,"y":0.002},{"s":7,"x":400,"y":0},
{"s":8,"x":200,"y":0.23},{"s":8,"x":202,"y":0.31},{"s":8,"x":204,"y":0.38},{"s":8,"x":206,"y":0.42},{"s":8,"x":208,"y":0.46},{"s":8,"x":210,"y":0.49},{"s":8,"x":213,"y":0.53},{"s":8,"x":216,"y":0.57},{"s":8,"x":219,"y":0.61},{"s":8,"x":222,"y":0.655},{"s":8,"x":225,"y":0.705},{"s":8,"x":228,"y":0.76},{"s":8,"x":231,"y":0.82},{"s":8,"x":234,"y":0.88},{"s":8,"x":237,"y":0.94},{"s":8,"x":240,"y":0.99},{"s":8,"x":243,"y":1.03},{"s":8,"x":246,"y":1.058},{"s":8,"x":249,"y":1.066},{"s":8,"x":252,"y":1.03},{"s":8,"x":255,"y":0.94},{"s":8,"x":258,"y":0.82},{"s":8,"x":261,"y":0.7},{"s":8,"x":264,"y":0.575},{"s":8,"x":267,"y":0.46},{"s":8,"x":270,"y":0.37},{"s":8,"x":274,"y":0.27},{"s":8,"x":278,"y":0.19},{"s":8,"x":283,"y":0.118},{"s":8,"x":290,"y":0.064},{"s":8,"x":297,"y":0.035},{"s":8,"x":305,"y":0.016},{"s":8,"x":315,"y":0.006},{"s":8,"x":325,"y":0.002},{"s":8,"x":400,"y":0},
{"s":9,"x":200,"y":0.24},{"s":9,"x":202,"y":0.32},{"s":9,"x":204,"y":0.39},{"s":9,"x":206,"y":0.44},{"s":9,"x":208,"y":0.49},{"s":9,"x":210,"y":0.53},{"s":9,"x":213,"y":0.58},{"s":9,"x":216,"y":0.62},{"s":9,"x":219,"y":0.665},{"s":9,"x":222,"y":0.71},{"s":9,"x":225,"y":0.76},{"s":9,"x":228,"y":0.81},{"s":9,"x":231,"y":0.865},{"s":9,"x":234,"y":0.92},{"s":9,"x":237,"y":0.97},{"s":9,"x":240,"y":1.01},{"s":9,"x":243,"y":1.04},{"s":9,"x":246,"y":1.05},{"s":9,"x":249,"y":1.04},{"s":9,"x":252,"y":0.99},{"s":9,"x":255,"y":0.89},{"s":9,"x":258,"y":0.78},{"s":9,"x":261,"y":0.66},{"s":9,"x":264,"y":0.545},{"s":9,"x":267,"y":0.44},{"s":9,"x":270,"y":0.355},{"s":9,"x":274,"y":0.26},{"s":9,"x":278,"y":0.185},{"s":9,"x":283,"y":0.115},{"s":9,"x":290,"y":0.063},{"s":9,"x":297,"y":0.034},{"s":9,"x":305,"y":0.016},{"s":9,"x":315,"y":0.006},{"s":9,"x":325,"y":0.002},{"s":9,"x":400,"y":0},
{"s":10,"x":200,"y":0.25},{"s":10,"x":202,"y":0.33},{"s":10,"x":204,"y":0.4},{"s":10,"x":206,"y":0.46},{"s":10,"x":208,"y":0.52},{"s":10,"x":210,"y":0.57},{"s":10,"x":213,"y":0.63},{"s":10,"x":216,"y":0.68},{"s":10,"x":219,"y":0.725},{"s":10,"x":222,"y":0.77},{"s":10,"x":225,"y":0.82},{"s":10,"x":228,"y":0.87},{"s":10,"x":231,"y":0.92},{"s":10,"x":234,"y":0.965},{"s":10,"x":237,"y":1.0},{"s":10,"x":240,"y":1.025},{"s":10,"x":243,"y":1.034},{"s":10,"x":246,"y":1.03},{"s":10,"x":249,"y":1.0},{"s":10,"x":252,"y":0.94},{"s":10,"x":255,"y":0.84},{"s":10,"x":258,"y":0.73},{"s":10,"x":261,"y":0.62},{"s":10,"x":264,"y":0.51},{"s":10,"x":267,"y":0.41},{"s":10,"x":270,"y":0.335},{"s":10,"x":274,"y":0.245},{"s":10,"x":278,"y":0.175},{"s":10,"x":283,"y":0.11},{"s":10,"x":290,"y":0.06},{"s":10,"x":297,"y":0.032},{"s":10,"x":305,"y":0.015},{"s":10,"x":315,"y":0.005},{"s":10,"x":325,"y":0.002},{"s":10,"x":400,"y":0},
{"s":11,"x":200,"y":0.26},{"s":11,"x":202,"y":0.33},{"s":11,"x":204,"y":0.4},{"s":11,"x":206,"y":0.48},{"s":11,"x":208,"y":0.56},{"s":11,"x":210,"y":0.63},{"s":11,"x":213,"y":0.7},{"s":11,"x":216,"y":0.755},{"s":11,"x":219,"y":0.8},{"s":11,"x":222,"y":0.84},{"s":11,"x":225,"y":0.88},{"s":11,"x":228,"y":0.925},{"s":11,"x":231,"y":0.964},{"s":11,"x":234,"y":0.995},{"s":11,"x":237,"y":1.02},{"s":11,"x":240,"y":1.03},{"s":11,"x":243,"y":1.022},{"s":11,"x":246,"y":1.0},{"s":11,"x":249,"y":0.96},{"s":11,"x":252,"y":0.88},{"s":11,"x":255,"y":0.78},{"s":11,"x":258,"y":0.67},{"s":11,"x":261,"y":0.57},{"s":11,"x":264,"y":0.47},{"s":11,"x":267,"y":0.38},{"s":11,"x":270,"y":0.31},{"s":11,"x":274,"y":0.23},{"s":11,"x":278,"y":0.165},{"s":11,"x":283,"y":0.105},{"s":11,"x":290,"y":0.057},{"s":11,"x":297,"y":0.03},{"s":11,"x":305,"y":0.014},{"s":11,"x":315,"y":0.005},{"s":11,"x":325,"y":0.002},{"s":11,"x":400,"y":0}
]
},
"vconcat":[
{"width":599,"height":426,"data":{"name":"A"},
"title":{"text":"A","dx":-132,"dy":25},
"mark":{"type":"line","interpolate":"monotone","strokeWidth":1.3},
"encoding":{
"x":{"field":"x","type":"quantitative","scale":{"domain":[200,400],"nice":false,"zero":false},"axis":{"values":[200,250,300,350,400],"labels":false,"title":null}},
"y":{"field":"y","type":"quantitative","scale":{"domain":[0,0.8],"nice":false},"axis":{"values":[0,0.2,0.4,0.6,0.8],"format":"~g","title":"absorbance","titleAngle":270,"titleBaseline":"middle","titleX":-114}},
"color":{"field":"s","type":"nominal","legend":null,"scale":{"domain":[0,1,2,3,4,5,6,7,8,9,10,11,12,13,14,15,16,17,18,19,20],"range":["#000000","#1f9e1f","#2a3ccf","#e0201b","#6a3ec8","#000000","#1f9e1f","#2a3ccf","#e0201b","#6a3ec8","#000000","#1f9e1f","#2a3ccf","#e0201b","#6a3ec8","#000000","#1f9e1f","#2a3ccf","#e0201b","#6a3ec8","#000000"]}}
}},
{"width":599,"height":426,"data":{"name":"B"},
"title":{"text":"B","dx":-132,"dy":27},
"mark":{"type":"line","interpolate":"monotone","strokeWidth":1.3},
"encoding":{
"x":{"field":"x","type":"quantitative","scale":{"domain":[200,400],"nice":false,"zero":false},"axis":{"values":[200,250,300,350,400],"labels":false,"title":null}},
"y":{"field":"y","type":"quantitative","scale":{"domain":[0,1],"nice":false},"axis":{"values":[0,0.2,0.4,0.6,0.8,1],"format":"~g","title":"absorbance","titleAngle":270,"titleBaseline":"middle","titleX":-114}},
"color":{"field":"s","type":"nominal","legend":null,"scale":{"domain":[0,1,2,3,4,5,6,7,8,9],"range":["#000000","#1f9e1f","#2a3ccf","#e0201b","#6a3ec8","#000000","#1f9e1f","#2a3ccf","#e0201b","#6a3ec8"]}}
}},
{"width":599,"height":426,"data":{"name":"C"},
"title":{"text":"C","dx":-132,"dy":28},
"mark":{"type":"line","interpolate":"monotone","strokeWidth":1.3},
"encoding":{
"x":{"field":"x","type":"quantitative","scale":{"domain":[200,400],"nice":false,"zero":false},"axis":{"values":[200,250,300,350,400],"title":"wavelength (nm)","titleBaseline":"middle","titleY":89}},
"y":{"field":"y","type":"quantitative","scale":{"domain":[0,1.2],"nice":false},"axis":{"values":[0,0.4,0.8,1.2],"format":"~g","title":"absorbance","titleAngle":270,"titleBaseline":"middle","titleX":-114}},
"color":{"field":"s","type":"nominal","legend":null,"scale":{"domain":[0,1,2,3,4,5,6,7,8,9,10,11],"range":["#2233c0","#2233c0","#2233c0","#2233c0","#2233c0","#2233c0","#2233c0","#d8201e","#d8201e","#d8201e","#d8201e","#d8201e"]}}
}}
]
}
